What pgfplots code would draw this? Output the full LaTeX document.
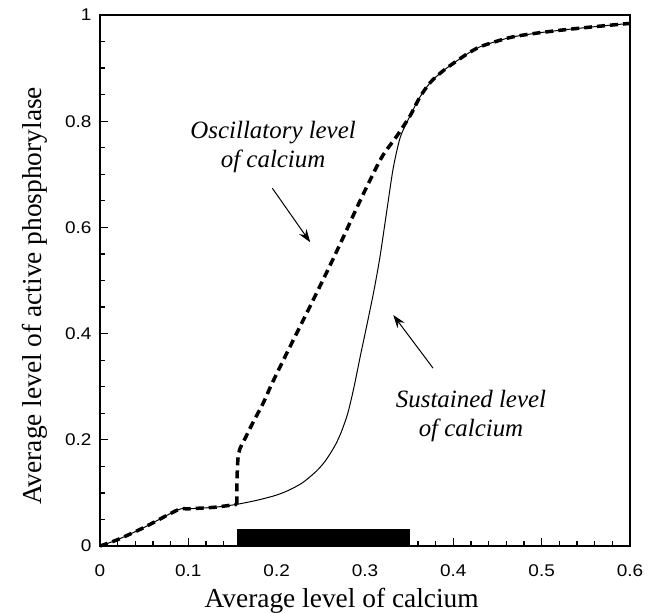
\documentclass[border=0pt]{standalone}
\usepackage{fontspec}
\setmainfont{Liberation Serif}
\newfontfamily\tickfont[FakeStretch=1.12]{Liberation Sans}
\usepackage{pgfplots}
\pgfplotsset{compat=1.18}
\usetikzlibrary{arrows.meta}
\begin{document}
\begin{tikzpicture}[x=1bp,y=1bp]
\begin{axis}[
  scale only axis,
  width=530bp, height=531bp,
  xmin=0, xmax=0.6, ymin=0, ymax=1,
  axis line style={line width=1.6bp},
  xtick={0,0.1,0.2,0.3,0.4,0.5,0.6},
  xticklabels={0,0.1,0.2,0.3,0.4,0.5,0.6},
  ytick={0,0.2,0.4,0.6,0.8,1},
  yticklabels={0,0.2,0.4,0.6,0.8,1},
  minor x tick num=4,
  minor y tick num=3,
  tick align=inside,
  xtick pos=bottom, ytick pos=left,
  major tick length=8bp, minor tick length=5bp,
  tick style={line width=1.2bp, black},
  /pgf/number format/assume math mode=true,
  ticklabel style={font=\tickfont\fontsize{17}{18}\selectfont},
  xticklabel style={yshift=-15bp},
  yticklabel style={xshift=-5bp},
  clip=false,
]
% black bar
\addplot[fill=black, draw=none] coordinates {(0.155,0) (0.351,0) (0.351,0.032) (0.155,0.032)} -- cycle;
% sustained (solid)
\addplot[black, line width=1bp, smooth, tension=0.45] coordinates {
(0,0) (0.02,0.012) (0.05,0.035) (0.088,0.068) (0.1,0.070) (0.13,0.073) (0.155,0.0785)
(0.18,0.087) (0.2,0.096) (0.215,0.106) (0.23,0.12) (0.245,0.141) (0.255,0.16)
(0.265,0.186) (0.272,0.21) (0.28,0.247) (0.287,0.295) (0.295,0.36) (0.302,0.415)
(0.31,0.48) (0.317,0.545) (0.325,0.635) (0.332,0.712) (0.34,0.77) (0.351,0.81)
(0.362,0.845) (0.374,0.873) (0.387,0.893) (0.40,0.909) (0.415,0.926) (0.43,0.940) (0.45,0.951)
(0.468,0.959) (0.495,0.966) (0.525,0.972) (0.56,0.978) (0.592,0.983) (0.6,0.984)};
% oscillatory (dashed)
\addplot[black, line width=3.5bp, dash pattern=on 8bp off 5bp, smooth, tension=0.4] coordinates {
(0,0) (0.02,0.012) (0.05,0.035) (0.088,0.068) (0.1,0.070) (0.13,0.073) (0.155,0.0785)};
\addplot[black, line width=3.5bp, dash pattern=on 8bp off 5bp, smooth, tension=0.5] coordinates {
(0.155,0.0785) (0.155,0.12) (0.157,0.175) (0.165,0.205) (0.173,0.232) (0.185,0.27) (0.195,0.307)
(0.215,0.375) (0.238,0.452) (0.26,0.527) (0.275,0.58) (0.291,0.638) (0.306,0.69)
(0.32,0.735) (0.336,0.772) (0.351,0.81) (0.362,0.845) (0.374,0.873) (0.387,0.893) (0.40,0.909)
(0.415,0.926) (0.43,0.940) (0.45,0.951) (0.468,0.959) (0.495,0.966) (0.525,0.972) (0.56,0.978)
(0.592,0.983) (0.6,0.984)};
% annotations
\node[font=\itshape\fontsize{25}{29}\selectfont, align=center] at (axis cs:0.196,0.752) {Oscillatory level\\of calcium};
\draw[line width=1bp, -{Stealth[length=13bp,width=9bp]}] (axis cs:0.195,0.674) -- (axis cs:0.238,0.572);
\node[font=\itshape\fontsize{25}{29}\selectfont, align=center] at (axis cs:0.42,0.245) {Sustained level\\of calcium};
\draw[line width=1bp, -{Stealth[length=13bp,width=9bp]}] (axis cs:0.377,0.335) -- (axis cs:0.332,0.435);
% axis labels
\node[anchor=base, font=\fontsize{27.5}{31}\selectfont] at ([yshift=-61bp]rel axis cs:0.456,0) {Average level of calcium};
\node[anchor=base, rotate=90, font=\fontsize{27.5}{31}\selectfont] at ([xshift=-58bp]rel axis cs:0,0.471) {Average level of active phosphorylase};
\end{axis}
\pgfresetboundingbox
\path (-100bp,-67bp) rectangle (557bp,546bp);
\end{tikzpicture}
\end{document}
